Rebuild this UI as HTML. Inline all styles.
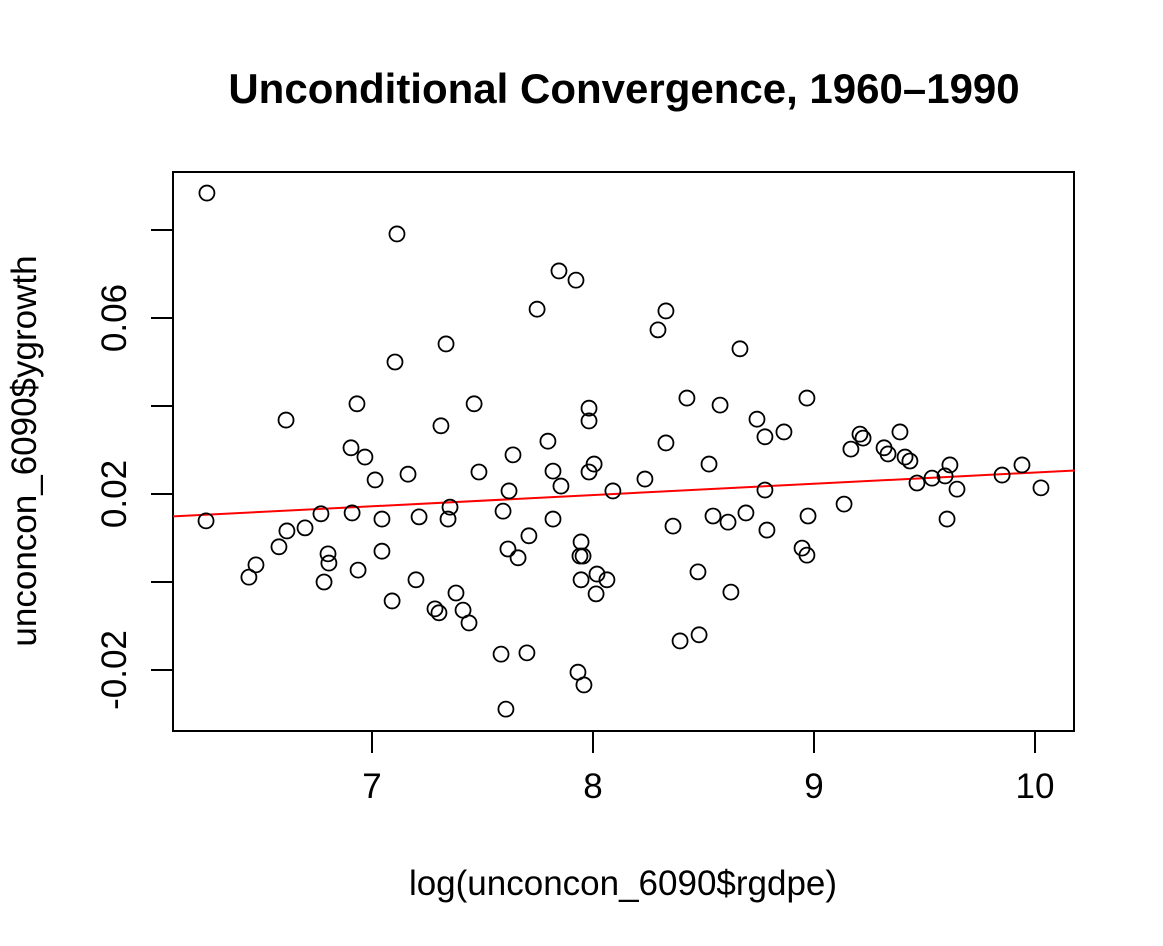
<!DOCTYPE html>
<html><head><meta charset="utf-8"><style>
html,body{margin:0;padding:0;background:#fff;}
svg{display:block;font-family:"Liberation Sans",Arial,sans-serif;}
</style></head><body>
<svg id="chart" width="1163" height="946" viewBox="0 0 1163 946" xmlns="http://www.w3.org/2000/svg">
<rect width="1163" height="946" fill="#fff"/>
<text x="624" y="103" font-size="42" font-weight="bold" text-anchor="middle">Unconditional Convergence, 1960–1990</text>
<rect x="173" y="172" width="901" height="559" fill="none" stroke="#000" stroke-width="2"/>
<text x="623" y="895" font-size="35" text-anchor="middle">log(unconcon_6090$rgdpe)</text>
<text transform="translate(36,451) rotate(-90)" font-size="35" text-anchor="middle">unconcon_6090$ygrowth</text>
<g id="xaxis"></g>
<g id="yaxis"></g>
<g id="fit"></g>
<g id="points"></g>
</svg>
<script>
const logGdp = [6.253,6.249,7.113,6.443,6.475,6.611,6.579,6.615,6.697,6.769,6.783,6.801,6.805,6.910,6.905,6.932,6.937,6.968,7.014,7.045,7.045,7.091,7.104,7.163,7.199,7.213,7.285,7.303,7.312,7.335,7.344,7.353,7.380,7.412,7.439,7.462,7.484,7.584,7.593,7.606,7.615,7.620,7.638,7.661,7.701,7.710,7.747,7.796,7.819,7.819,7.846,7.855,7.923,7.932,7.946,7.941,7.955,7.946,7.959,7.982,7.982,7.982,8.005,8.018,8.014,8.063,8.090,8.235,8.294,8.330,8.330,8.362,8.394,8.425,8.475,8.480,8.525,8.543,8.575,8.611,8.624,8.665,8.692,8.742,8.778,8.778,8.787,8.864,8.946,8.968,8.968,8.973,9.136,9.167,9.208,9.222,9.317,9.335,9.389,9.412,9.434,9.466,9.534,9.593,9.602,9.615,9.647,9.851,9.941,10.027];
const growth = [0.0884,0.0139,0.0791,0.0011,0.0039,0.0368,0.0080,0.0116,0.0123,0.0155,0,0.0064,0.0043,0.0157,0.0305,0.0405,0.0027,0.0284,0.0232,0.0143,0.0070,-0.0043,0.0500,0.0245,0.0005,0.0148,-0.0061,-0.0070,0.0355,0.0541,0.0143,0.0170,-0.0025,-0.0064,-0.0093,0.0405,0.0250,-0.0164,0.0161,-0.0289,0.0075,0.0207,0.0289,0.0055,-0.0161,0.0105,0.0620,0.0320,0.0252,0.0143,0.0707,0.0218,0.0686,-0.0205,0.0091,0.0059,0.0059,0.0005,-0.0234,0.0395,0.0366,0.0250,0.0268,0.0018,-0.0027,0.0005,0.0207,0.0234,0.0573,0.0616,0.0316,0.0127,-0.0134,0.0418,0.0023,-0.0120,0.0268,0.0150,0.0402,0.0136,-0.0023,0.0530,0.0157,0.0370,0.0330,0.0209,0.0118,0.0341,0.0077,0.0061,0.0418,0.0150,0.0177,0.0302,0.0336,0.0327,0.0305,0.0291,0.0341,0.0284,0.0275,0.0225,0.0236,0.0241,0.0143,0.0266,0.0211,0.0243,0.0266,0.0214];
const xTicks = [7,8,9,10];
const xTickLabels = ["7","8","9","10"];
const yTicks = [-0.02,0,0.02,0.04,0.06,0.08];
const yTickLabels = ["-0.02","","0.02","","0.06",""];
const fitRange = [6.1, 10.18];

const NS="http://www.w3.org/2000/svg";
const X = v => 372 + (v-7)*221;
const Y = v => 582 - v*4400;
function mk(tag, attrs, parent){const e=document.createElementNS(NS,tag);for(const k in attrs)e.setAttribute(k,attrs[k]);parent.appendChild(e);return e;}

const xa=document.getElementById('xaxis');
xTicks.forEach((t,i)=>{
  const l=mk('line',{x1:X(t),x2:X(t),y1:731,y2:753,stroke:'#000','stroke-width':2},xa);
  
  
  const tx=mk('text',{x:X(t),y:798,'font-size':35,'text-anchor':'middle'},xa);
  tx.textContent=xTickLabels[i];
  
  
});
const ya=document.getElementById('yaxis');
yTicks.forEach((t,i)=>{
  const l=mk('line',{x1:151,x2:173,y1:Y(t),y2:Y(t),stroke:'#000','stroke-width':2},ya);
  
  
  if(yTickLabels[i]){
    const tx=mk('text',{transform:`translate(126,${Y(t)}) rotate(-90)`,'font-size':35,'text-anchor':'middle'},ya);
    tx.textContent=yTickLabels[i];
    
    
  }
});
const n=logGdp.length;
let mx=0,my=0;for(let i=0;i<n;i++){mx+=logGdp[i];my+=growth[i];}mx/=n;my/=n;
let sxy=0,sxx=0;for(let i=0;i<n;i++){sxy+=(logGdp[i]-mx)*(growth[i]-my);sxx+=(logGdp[i]-mx)**2;}
const slope=sxy/sxx, icpt=my-slope*mx;
const fl=mk('line',{x1:X(fitRange[0]),y1:Y(icpt+slope*fitRange[0]),x2:X(fitRange[1]),y2:Y(icpt+slope*fitRange[1]),stroke:'#ff0000','stroke-width':2},document.getElementById('fit'));


const pg=document.getElementById('points');
for(let i=0;i<n;i++){
  const c=mk('circle',{cx:X(logGdp[i]),cy:Y(growth[i]),r:7.5,fill:'none',stroke:'#000','stroke-width':1.8},pg);
  
  
}
</script>
</body></html>
